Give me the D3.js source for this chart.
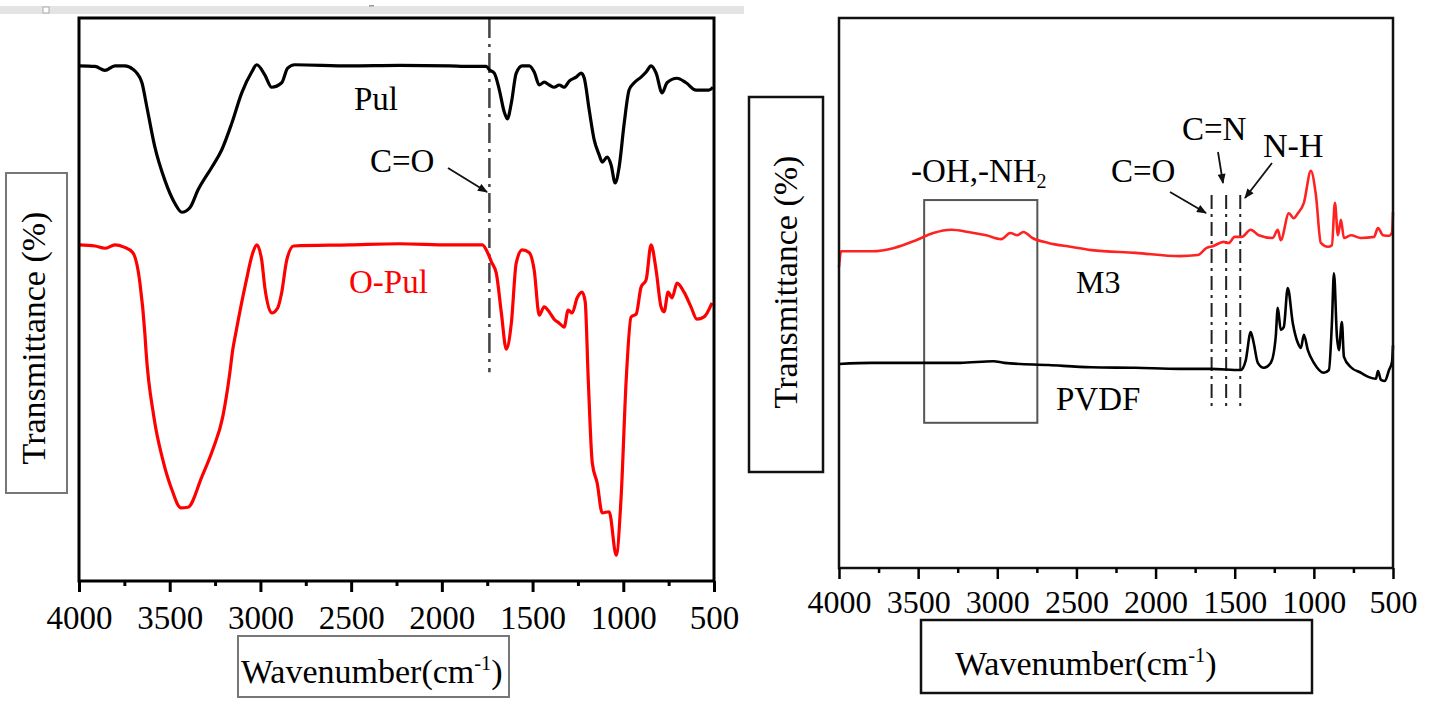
<!DOCTYPE html>
<html>
<head>
<meta charset="utf-8">
<script src="https://cdn.jsdelivr.net/npm/d3@7"></script>
<style>
body { margin: 0; background: #fff; }
svg text { font-family: "Liberation Serif", "DejaVu Serif", serif; }
</style>
</head>
<body>
<script>
// wavenumber ticks (cm-1)
var majorTicks = [4000, 3500, 3000, 2500, 2000, 1500, 1000, 500];
var minorTicks = [3750, 3250, 2750, 2250, 1750, 1250, 750];

// left panel, [wavenumber, transmittance]
var pul = [[4000,91.5],[3912,91.4],[3857,90.7],[3802,91.5],[3747,91.5],[3703,90.9],[3681,90.2],
  [3653,88.5],[3626,84.2],[3582,77.1],[3527,71.2],[3472,67.1],[3433,65.5],[3389,66.3],[3345,69.4],
  [3268,73.5],[3213,76.6],[3158,81.3],[3103,86.7],[3048,90.4],[3020,91.7],[2976,89.9],[2938,87.7],
  [2883,88.5],[2850,91.1],[2811,91.7],[2509,91.5],[2234,91.6],[1958,91.5],[1848,91.4],[1755,91.4],
  [1738,90.8],[1711,90.2],[1683,87.2],[1656,83.3],[1639,82.1],[1617,84.9],[1590,90.2],[1557,91.5],
  [1518,91.5],[1491,90.4],[1463,88.1],[1436,88.6],[1408,88.1],[1381,87.7],[1353,88.1],[1326,87.7],
  [1298,88.8],[1260,89.5],[1232,90.2],[1215,89.3],[1188,83.7],[1160,78.3],[1133,75.7],[1116,74.4],
  [1089,75.3],[1067,73.9],[1045,70.7],[1023,73.5],[995,81.3],[968,87.2],[940,88.5],[902,89.5],
  [874,90.4],[847,91.5],[819,90.2],[786,86.7],[759,88.5],[704,89.3],[654,88.5],[599,87.2],
  [528,87.2],[506,87.7]];

var oPul = [[4000,59.7],[3912,59.5],[3857,59.1],[3802,59.7],[3752,59.3],[3703,58.3],[3664,52.9],
  [3637,44.0],[3631,41.0],[3587,29.1],[3538,21.5],[3488,16.2],[3439,13.0],[3400,13.1],[3323,18.5],
  [3263,23.3],[3208,29.1],[3169,36.9],[3153,41.0],[3136,44.0],[3081,52.9],[3042,58.3],[3020,59.7],
  [2993,57.0],[2976,52.2],[2938,47.6],[2905,48.5],[2883,51.2],[2855,57.0],[2817,59.5],[2509,59.7],
  [2234,59.9],[1958,59.7],[1777,59.7],[1749,58.4],[1727,56.7],[1700,54.7],[1672,47.6],[1645,41.2],
  [1617,45.8],[1590,56.5],[1557,58.8],[1518,58.3],[1491,55.2],[1463,47.2],[1436,48.7],[1408,47.8],
  [1381,46.5],[1353,45.8],[1326,45.1],[1304,48.1],[1282,47.6],[1254,50.3],[1227,51.3],[1210,49.6],
  [1193,35.7],[1171,21.0],[1144,17.4],[1116,12.1],[1078,12.3],[1039,4.6],[1012,14.9],[984,35.7],
  [957,46.9],[929,47.4],[902,52.2],[874,53.5],[847,59.7],[819,55.2],[792,48.7],[775,47.8],
  [753,51.3],[731,50.3],[704,52.9],[665,51.3],[627,48.7],[594,46.5],[555,46.9],[511,49.4]];

// right panel, [wavenumber, transmittance]
var m3 = [[4000,54.7],[3987,57.6],[3791,57.6],[3652,58.2],[3513,59.6],[3405,60.9],[3291,61.5],
  [3184,61.1],[3070,60.5],[2975,59.8],[2918,60.9],[2873,60.5],[2835,61.1],[2778,60.0],[2677,59.1],
  [2538,58.4],[2405,57.8],[2127,57.3],[1848,56.7],[1734,56.9],[1677,58.2],[1639,58.5],[1570,59.3],
  [1538,59.1],[1500,60.2],[1456,60.2],[1399,61.5],[1348,60.5],[1260,60.0],[1228,61.5],[1209,59.6],
  [1158,64.5],[1127,63.6],[1101,64.5],[1063,66.4],[1019,72.2],[987,67.8],[956,59.1],[911,58.4],
  [886,58.7],[867,66.4],[848,60.5],[829,63.3],[810,60.0],[766,60.5],[703,60.0],[620,60.2],
  [595,61.8],[563,60.5],[525,60.4],[506,61.0],[500,64.7]];

var pvdf = [[4000,37.1],[3791,37.3],[3513,37.3],[3234,37.3],[3025,37.6],[2956,37.3],[2677,36.9],
  [2405,36.5],[2127,36.4],[1848,36.2],[1652,36.2],[1462,36.0],[1430,37.8],[1399,42.9],[1380,40.9],
  [1354,37.3],[1316,36.4],[1272,37.3],[1241,42.0],[1228,47.3],[1209,43.3],[1190,43.8],[1165,50.9],
  [1133,44.5],[1101,40.9],[1082,40.0],[1063,42.4],[1038,39.6],[1000,37.3],[937,35.5],[905,36.0],
  [886,44.5],[873,53.6],[854,42.0],[842,39.6],[823,44.7],[810,38.4],[766,36.5],[703,35.5],
  [652,34.7],[608,34.4],[595,35.8],[576,34.2],[551,34.0],[525,36.0],[506,37.5],[500,40.5]];

// annotation positions (wavenumber / transmittance)
var leftMark = 1738;
var leftMarkT = [100, 37.1];
var rightMarks = [1646, 1554, 1465];
var rightMarksT = [67.8, 29.1];
var boxWn = [3462, 2747];
var boxT = [66.9, 26.4];

var serif = "'Liberation Serif', 'DejaVu Serif', serif";
var w = 1429, h = 706;
var svg = d3.select("body").append("svg").attr("width", w).attr("height", h)
  .attr("font-family", serif);

var defs = svg.append("defs");
defs.append("marker").attr("id", "arrow")
  .attr("viewBox", "0 0 10 8").attr("refX", 9).attr("refY", 4)
  .attr("markerWidth", 11).attr("markerHeight", 8).attr("markerUnits", "userSpaceOnUse")
  .attr("orient", "auto")
  .append("path").attr("d", "M0,0 L10,4 L0,8 Z").attr("fill", "#111");

// grey strip at the top of the left figure
svg.append("rect").attr("x", 0).attr("y", 6).attr("width", 744).attr("height", 8).attr("fill", "#e4e4e4");
svg.append("rect").attr("x", 43).attr("y", 7).attr("width", 6).attr("height", 6)
  .attr("fill", "#fff").attr("stroke", "#aaa").attr("stroke-width", 1);
svg.append("rect").attr("x", 369).attr("y", 5).attr("width", 5).attr("height", 1.5).attr("fill", "#999");

var drawAxis = function(x, y0, sw, fs, pad) {
  var major = svg.append("g")
    .attr("transform", "translate(0," + y0 + ")")
    .call(d3.axisBottom(x).tickValues(majorTicks).tickSize(11).tickPadding(pad).tickSizeOuter(0).tickFormat(d3.format("d")))
    .attr("font-family", serif);
  major.select(".domain").remove();
  major.selectAll("line").attr("stroke", "#000").attr("stroke-width", sw);
  major.selectAll("text").attr("font-size", fs).attr("fill", "#000").attr("font-family", serif);

  var minor = svg.append("g")
    .attr("transform", "translate(0," + y0 + ")")
    .call(d3.axisBottom(x).tickValues(minorTicks).tickSize(5).tickSizeOuter(0).tickFormat(""));
  minor.select(".domain").remove();
  minor.selectAll("line").attr("stroke", "#000").attr("stroke-width", sw);
};

var labelBox = function(x, y, bw, bh, stroke, sw) {
  svg.append("rect").attr("x", x).attr("y", y).attr("width", bw).attr("height", bh)
    .attr("fill", "#fff").attr("stroke", stroke).attr("stroke-width", sw);
};

var xLabel = function(x, y, fs) {
  var t = svg.append("text").attr("x", x).attr("y", y).attr("font-size", fs).attr("fill", "#000");
  t.append("tspan").text("Wavenumber(cm");
  t.append("tspan").attr("font-size", fs * 0.6).attr("dy", -fs * 0.38).text("-1");
  t.append("tspan").attr("dy", fs * 0.38).text(")");
};

var yLabel = function(cx, cy, fs) {
  svg.append("text")
    .attr("transform", "translate(" + cx + "," + cy + ") rotate(-90)")
    .attr("text-anchor", "middle").attr("font-size", fs).attr("fill", "#000")
    .text("Transmittance (%)");
};

var txt = function(x, y, s, fs, col) {
  return svg.append("text").attr("x", x).attr("y", y).attr("font-size", fs)
    .attr("fill", col || "#000").text(s);
};

var arrow = function(x1, y1, x2, y2) {
  svg.append("line").attr("x1", x1).attr("y1", y1).attr("x2", x2).attr("y2", y2)
    .attr("stroke", "#111").attr("stroke-width", 1.8).attr("marker-end", "url(#arrow)");
};

// ---------- left panel ----------
var xL = d3.scaleLinear().domain([4000, 500]).range([79, 714]);
var yL = d3.scaleLinear().domain([0, 100]).range([581, 18]);

var lineL = d3.line().x(function(d) { return xL(d[0]); }).y(function(d) { return yL(d[1]); })
  .curve(d3.curveMonotoneX);

svg.append("line")
  .attr("x1", xL(leftMark)).attr("x2", xL(leftMark))
  .attr("y1", yL(leftMarkT[0])).attr("y2", yL(leftMarkT[1]))
  .attr("stroke", "#444").attr("stroke-width", 2.5).attr("stroke-dasharray", "20,6,3,6");

svg.append("path").datum(pul).attr("d", lineL)
  .attr("fill", "none").attr("stroke", "#000").attr("stroke-width", 3.2).attr("stroke-linejoin", "round");
svg.append("path").datum(oPul).attr("d", lineL)
  .attr("fill", "none").attr("stroke", "#f00").attr("stroke-width", 3.2).attr("stroke-linejoin", "round");

svg.append("rect").attr("x", 79).attr("y", 18).attr("width", 635).attr("height", 563)
  .attr("fill", "none").attr("stroke", "#000").attr("stroke-width", 3);

drawAxis(xL, 581, 3, 33, 14);

txt(354, 110, "Pul", 33);
txt(370, 172, "C=O", 33);
arrow(448, 168, 487, 192);
txt(349, 293, "O-Pul", 33, "#f00");

labelBox(6, 173, 61, 320, "#777", 2);
yLabel(45, 338, 34);
labelBox(238, 636, 271, 61, "#777", 2);
xLabel(241, 683, 34);

// ---------- right panel ----------
var xR = d3.scaleLinear().domain([4000, 500]).range([839, 1393]);
var yR = d3.scaleLinear().domain([0, 100]).range([568, 18]);

var lineR = d3.line().x(function(d) { return xR(d[0]); }).y(function(d) { return yR(d[1]); })
  .curve(d3.curveMonotoneX);

svg.append("rect")
  .attr("x", xR(boxWn[0])).attr("y", yR(boxT[0]))
  .attr("width", xR(boxWn[1]) - xR(boxWn[0])).attr("height", yR(boxT[1]) - yR(boxT[0]))
  .attr("fill", "none").attr("stroke", "#555").attr("stroke-width", 2);

svg.selectAll(".mark").data(rightMarks).enter().append("line")
  .attr("class", "mark")
  .attr("x1", function(d) { return xR(d); }).attr("x2", function(d) { return xR(d); })
  .attr("y1", yR(rightMarksT[0])).attr("y2", yR(rightMarksT[1]))
  .attr("stroke", "#222").attr("stroke-width", 2).attr("stroke-dasharray", "14,5,3,5");

svg.append("path").datum(m3).attr("d", lineR)
  .attr("fill", "none").attr("stroke", "#f22").attr("stroke-width", 2.6).attr("stroke-linejoin", "round");
svg.append("path").datum(pvdf).attr("d", lineR)
  .attr("fill", "none").attr("stroke", "#000").attr("stroke-width", 2.6).attr("stroke-linejoin", "round");

svg.append("rect").attr("x", 839).attr("y", 18).attr("width", 554).attr("height", 550)
  .attr("fill", "none").attr("stroke", "#111").attr("stroke-width", 2.5);

drawAxis(xR, 568, 2.5, 32, 11);

var oh = txt(911, 182, "-OH,-NH", 33);
oh.append("tspan").attr("font-size", 20).attr("dy", 6).text("2");
txt(1111, 182, "C=O", 33);
txt(1182, 140, "C=N", 33);
txt(1263, 157, "N-H", 34);
arrow(1170, 192, 1206, 213);
arrow(1218, 152, 1223, 183);
arrow(1272, 163, 1245, 198);
txt(1076, 293, "M3", 32);
txt(1056, 410, "PVDF", 33);

labelBox(749, 97, 74, 375, "#111", 2.5);
yLabel(797, 282, 34);
labelBox(921, 620, 391, 73, "#111", 2.5);
xLabel(955, 675, 34);
</script>
</body>
</html>
